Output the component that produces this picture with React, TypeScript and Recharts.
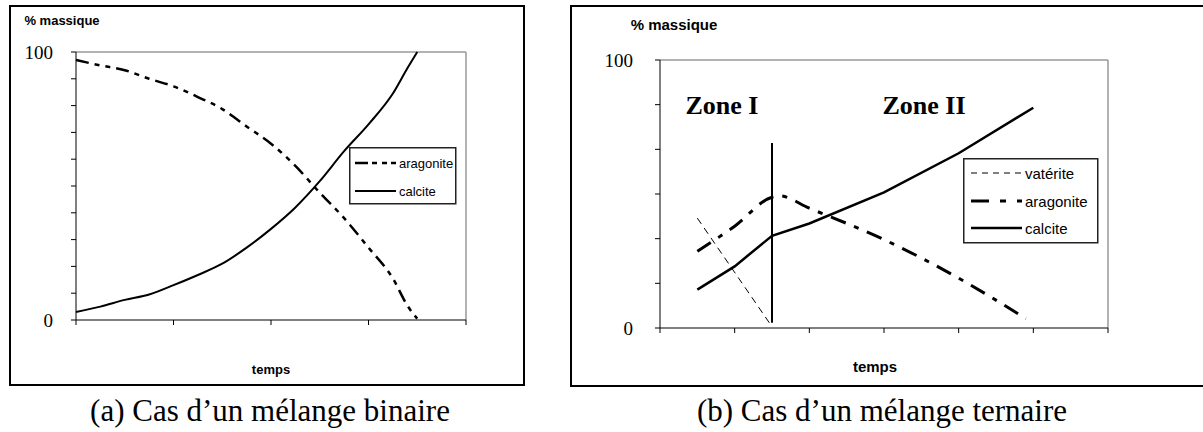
import React from 'react';
import { LineChart, Line, XAxis, YAxis, ReferenceLine } from 'recharts';

const SERIF = '"Liberation Serif", "Times New Roman", serif';
const SANS = '"Liberation Sans", Arial, sans-serif';

// (a) binary mixture
const binTimes = [0, 0.25, 0.5, 0.75, 1, 1.25, 1.5, 1.75, 2, 2.25, 2.5, 2.75, 3, 3.25, 3.4, 3.5];
const binAragonite = [97, 95, 93.2, 90, 87.2, 83.2, 78.7, 72.2, 65.8, 57.5, 47.5, 38, 27, 15.5, 5.3, 0.5];
const binCalcite = [3, 5, 7.5, 9.5, 13, 16.8, 21, 27, 34, 42, 51.8, 63, 73, 84.5, 94, 100];
const binXTicks = [0, 1, 2, 3, 4];
const binYTicks = [0, 10, 20, 30, 40, 50, 60, 70, 80, 90, 100];

// (b) ternary mixture
const terTimes = [0.5, 1, 1.5, 1.6, 2, 3, 4, 4.9, 5];
const terVaterite = [41, null, 0.5, null, null, null, null, null, null];
const terAragonite = [28.6, 38, 48.8, 49.3, 44.7, 33, 18.6, 3.5, null];
const terCalcite = [14.3, 23, 34.4, null, 39, 50.6, 65.2, null, 82.2];
const terXTicks = [0, 1, 2, 3, 4, 5, 6];
const terYTicks = [0, 1, 2, 3, 4, 5, 6].map((i) => (i * 100) / 6);
const zoneSplit = 1.5;
const zoneLine = [2, 69];

const binData = binTimes.map((t, i) => ({ t, aragonite: binAragonite[i], calcite: binCalcite[i] }));
const terData = terTimes.map((t, i) => ({
    t,
    vaterite: terVaterite[i],
    aragonite: terAragonite[i],
    calcite: terCalcite[i],
}));

const yLabel = (v: number) => (Math.abs(v) < 0.01 ? '0' : Math.abs(v - 100) < 0.01 ? '100' : '');

const Txt: React.FC<{ x: number; y: number; size: number; bold?: boolean; family: string; children: React.ReactNode }> = ({ x, y, size, bold, family, children }) => (
    <div style={{
        position: 'absolute', left: x, top: y - size * 0.55, transform: 'translateX(-50%)',
        fontFamily: family, fontSize: size, fontWeight: bold ? 'bold' : 'normal',
        lineHeight: 1, whiteSpace: 'nowrap', color: '#000',
    }}>{children}</div>
);

type LegendRow = { name: string; dash?: string; width: number };

const LegendBox: React.FC<{ left: number; top: number; w: number; h: number; rows: LegendRow[]; rowY: number[]; x1: number; x2: number; fontSize: number }> = ({ left, top, w, h, rows, rowY, x1, x2, fontSize }) => (
    <svg style={{ position: 'absolute', left, top }} width={w + 2} height={h + 2}>
        <rect x={0.75} y={0.75} width={w} height={h} fill="#fff" stroke="#222" strokeWidth={1.5} />
        {rows.map((r, i) => (
            <g key={r.name}>
                <line x1={x1} x2={x2} y1={rowY[i]} y2={rowY[i]} stroke="#000" strokeWidth={r.width} strokeDasharray={r.dash} />
                <text x={x2 + 3} y={rowY[i]} dominantBaseline="central" fontFamily={SANS} fontSize={fontSize} fill="#000">{r.name}</text>
            </g>
        ))}
    </svg>
);

const App: React.FC = () => {
    return (
        <div style={{ position: 'absolute', left: 0, top: 0, width: 1203, height: 432, background: '#fff', overflow: 'hidden' }}>
            {/* panel frames */}
            <div style={{ position: 'absolute', left: 9, top: 5, width: 512, height: 377, border: '2px solid #000' }} />
            <div style={{ position: 'absolute', left: 570, top: 5, width: 700, height: 378, border: '2px solid #000' }} />

            {/* (a) */}
            <div style={{ position: 'absolute', left: 0, top: 0 }}>
                <LineChart width={520} height={390} data={binData} margin={{ top: 52, left: 26, right: 54, bottom: 40 }}>
                    <XAxis dataKey="t" type="number" domain={[0, 4]} ticks={binXTicks} tickFormatter={() => ''}
                        stroke="#000" tickSize={5} height={30} />
                    <YAxis type="number" domain={[0, 100]} ticks={binYTicks} tickFormatter={yLabel} width={50}
                        stroke="#000" tickSize={5} tickMargin={18} interval={0}
                        tick={{ fontFamily: SERIF, fontSize: 19, fill: '#000' }} />
                    <ReferenceLine y={100} stroke="#999" strokeWidth={1.5} />
                    <ReferenceLine x={4} stroke="#999" strokeWidth={1.5} />
                    <Line type="monotone" dataKey="aragonite" stroke="#000" strokeWidth={2.5} strokeDasharray="13 6 5 6 5 6" dot={false} isAnimationActive={false} />
                    <Line type="monotone" dataKey="calcite" stroke="#000" strokeWidth={2} dot={false} isAnimationActive={false} />
                </LineChart>
            </div>
            <LegendBox left={349} top={147} w={106} h={56}
                rows={[{ name: 'aragonite', dash: '13 4 5 5 5 4', width: 2.5 }, { name: 'calcite', width: 2 }]}
                rowY={[16, 44]} x1={6} x2={47} fontSize={13} />
            <Txt x={62} y={21} size={13} bold family={SANS}>% massique</Txt>
            <Txt x={271} y={370} size={13} bold family={SANS}>temps</Txt>
            <Txt x={270} y={412} size={31} family={SERIF}>(a) Cas d’un mélange binaire</Txt>

            {/* (b) */}
            <div style={{ position: 'absolute', left: 560, top: 0 }}>
                <LineChart width={600} height={390} data={terData} margin={{ top: 60, left: 50, right: 52, bottom: 32 }}>
                    <XAxis dataKey="t" type="number" domain={[0, 6]} ticks={terXTicks} tickFormatter={() => ''}
                        stroke="#000" tickSize={5} height={30} />
                    <YAxis type="number" domain={[0, 100]} ticks={terYTicks} tickFormatter={yLabel} width={50}
                        stroke="#000" tickSize={5} tickMargin={22} interval={0}
                        tick={{ fontFamily: SERIF, fontSize: 19, fill: '#000' }} />
                    <ReferenceLine y={100} stroke="#999" strokeWidth={1.5} />
                    <ReferenceLine x={6} stroke="#999" strokeWidth={1.5} />
                    <ReferenceLine segment={[{ x: zoneSplit, y: zoneLine[0] }, { x: zoneSplit, y: zoneLine[1] }]} stroke="#000" strokeWidth={2} />
                    <Line type="linear" dataKey="vaterite" stroke="#000" strokeWidth={1} strokeDasharray="7 5" dot={false} connectNulls isAnimationActive={false} />
                    <Line type="monotone" dataKey="aragonite" stroke="#000" strokeWidth={3} strokeDasharray="16 9 5 9" dot={false} connectNulls isAnimationActive={false} />
                    <Line type="linear" dataKey="calcite" stroke="#000" strokeWidth={2.5} dot={false} connectNulls isAnimationActive={false} />
                </LineChart>
            </div>
            <LegendBox left={963} top={158} w={134} h={84}
                rows={[{ name: 'vatérite', dash: '6 5', width: 1 }, { name: 'aragonite', dash: '18 11 6 11', width: 3 }, { name: 'calcite', width: 2.5 }]}
                rowY={[15, 43, 70]} x1={8} x2={59} fontSize={15} />
            <Txt x={722} y={107} size={26} bold family={SERIF}>Zone I</Txt>
            <Txt x={924} y={107} size={26} bold family={SERIF}>Zone II</Txt>
            <Txt x={674} y={25} size={15} bold family={SANS}>% massique</Txt>
            <Txt x={875} y={367} size={15} bold family={SANS}>temps</Txt>
            <Txt x={882} y={412} size={31} family={SERIF}>(b) Cas d’un mélange ternaire</Txt>
        </div>
    );
};

export default App;
